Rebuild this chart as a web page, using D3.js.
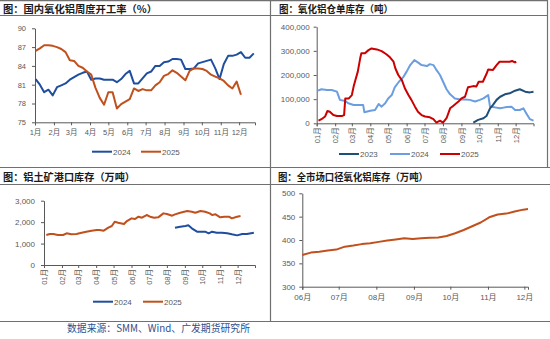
<!DOCTYPE html>
<html><head><meta charset="utf-8">
<script src="https://cdn.jsdelivr.net/npm/d3@7/dist/d3.min.js"></script>
<style>body{margin:0;background:#fff}svg{display:block}</style>
</head><body>
<svg id="c" width="550" height="339"></svg>
<script>
// ---------------- DATA ----------------
// Panel 1: weekly alumina operating rate (%)
const p1Months = ["1月","2月","3月","4月","5月","6月","7月","8月","9月","10月","11月","12月"];
const p1Ticks = [75,78,81,84,87,90];
const util2024 = [81.9,81.0,79.8,80.2,79.3,80.6,80.9,81.2,81.8,82.2,
  82.6,82.9,83.1,81.8,82.0,82.0,81.8,81.8,81.8,81.4,
  81.9,82.7,83.2,81.2,81.2,82.0,82.8,83.1,84.0,84.0,
  84.6,84.7,85.1,85.1,85.0,83.5,83.5,83.6,84.4,84.6,
  84.8,85.0,83.6,81.9,84.3,85.6,85.6,85.8,86.2,85.3,
  85.3,86.0];
const util2025 = [86.4,86.8,87.3,87.3,87.2,87.0,86.7,86.2,84.9,84.8,
  84.0,83.7,83.1,82.6,80.5,78.9,77.8,79.8,79.8,77.2,
  77.9,78.3,78.7,80.4,80.0,80.3,80.1,80.1,80.9,81.4,
  82.4,82.7,83.3,82.9,82.3,81.7,83.2,83.6,83.6,83.5,
  83.2,82.6,82.3,82.0,81.6,80.9,80.4,81.5,79.4];

// Panel 2: alumina warrant stock (t), day-of-year positions
const p2Months = ["01月","02月","03月","04月","05月","06月","07月","08月","09月","10月","11月","12月"];
const p2Ticks = [0,100000,200000,300000,400000];
const whDays2023 = [263,271,280,285,291,296,302,308,316,324,333,341,350,358,364];
const wh2023 = [3000,14000,21000,30000,62000,76000,97000,110000,120000,124000,135000,141000,131000,128000,131000];
const whDays2024 = [2,8,17,25,34,39,48,53,62,73,78,80,90,98,104,109,115,120,126,131,
  138,145,151,157,164,171,176,185,190,196,201,207,213,218,224,232,241,249,257,266,
  274,280,288,291,299,308,316,327,333,341,347,352,358,364];
const wh2024 = [135000,141000,138000,138000,131000,97000,92000,83000,76000,76000,76000,46000,52000,55000,80000,69000,83000,103000,117000,149000,
  172000,190000,214000,241000,262000,250000,241000,237000,245000,241000,221000,200000,168000,141000,120000,103000,99000,99000,97000,90000,
  97000,103000,117000,69000,66000,62000,66000,69000,55000,55000,62000,41000,17000,11000];
const whDays2025 = [3,8,14,18,22,28,34,42,46,48,54,59,62,65,69,73,75,81,87,92,
  101,109,117,123,129,132,137,143,148,154,159,165,170,176,182,190,196,201,207,212,
  218,224,229,238,243,249,254,263,268,272,279,285,288,296,302,307,316,324,328,333,335];
const wh2025 = [11000,17000,28000,51000,48000,34000,30000,30000,34000,103000,103000,117000,152000,179000,214000,269000,290000,290000,303000,310000,
  306000,299000,286000,273000,255000,228000,200000,179000,145000,117000,97000,69000,48000,34000,28000,25000,17000,3000,11000,3000,
  21000,62000,72000,90000,103000,110000,149000,154000,152000,172000,172000,204000,223000,221000,241000,255000,255000,255000,258000,252000,255000];

// Panel 3: bauxite port stock (10kt)
const p3Ticks = [0,1000,2000,3000];
const bxDays2024 = [226,235,244,249,255,264,272,278,284,290,298,307,316,324,333,342,350,362];
const bx2024 = [1741,1788,1819,1850,1710,1554,1554,1554,1477,1554,1508,1508,1477,1430,1383,1446,1446,1508];
const bxDays2025 = [4,10,16,24,33,39,47,56,65,73,82,91,96,103,111,117,122,128,138,143,
  151,157,163,169,177,183,190,197,206,212,221,226,235,247,255,261,270,278,286,290,
  296,304,311,319,324,333,339];
const bx2025 = [1399,1446,1446,1399,1399,1477,1430,1446,1508,1554,1601,1632,1632,1601,1741,1819,2021,1974,1912,2052,
  2176,2145,2254,2207,2332,2254,2207,2223,2409,2378,2301,2363,2441,2518,2487,2441,2518,2487,2409,2332,
  2363,2223,2254,2254,2176,2254,2285];

// Panel 4: market-wide alumina inventory (10kt)
const p4Months = ["06月","07月","08月","09月","10月","11月","12月"];
const p4Ticks = [300,350,400,450,500];
const invDates = ["2025-06-01","2025-06-08","2025-06-15","2025-06-22","2025-06-29","2025-07-06","2025-07-13","2025-07-20","2025-07-27",
  "2025-08-03","2025-08-10","2025-08-17","2025-08-24","2025-08-31","2025-09-07","2025-09-14","2025-09-21","2025-09-28",
  "2025-10-05","2025-10-12","2025-10-19","2025-10-26","2025-11-02","2025-11-09","2025-11-16","2025-11-23","2025-11-30","2025-12-04"];
const inv = [368,373,375,377.7,379.5,385.7,388,391.2,392.9,396,399,401.2,403.6,402,403.6,405,405.5,408.5,
  414.5,421.5,429.5,437.5,448.6,454.5,456.5,461,465,466.4];

// ---------------- DRAWING ----------------
const svg = d3.select("#c");
const NUM = "'Liberation Sans', Arial, 'Noto Sans CJK SC', sans-serif";
const CJK = "'Noto Sans CJK SC', sans-serif";
const AX = "#595959", TX = "#595959";
const C_BLUE = "#1f4e9e", C_BROWN = "#c0501c";
const C23 = "#1f4e79", C24L = "#6b9ee0", C25R = "#cc0000";

svg.append("rect").attr("width",550).attr("height",339).attr("fill","#fff");

// frame
const fr = svg.append("g").attr("stroke","#707070").attr("stroke-width",1.2).attr("fill","none");
[[0,547,0.6],[0,547,15.5],[0,550,167.5],[0,550,184.5],[0,550,321.5]].forEach(([a,b,y])=>
  fr.append("line").attr("x1",a).attr("x2",b).attr("y1",y).attr("y2",y));
fr.append("line").attr("x1",270.5).attr("x2",270.5).attr("y1",0).attr("y2",321.5);
fr.append("line").attr("x1",547.5).attr("x2",547.5).attr("y1",0).attr("y2",167.5);

function title(x,y,txt,len){
  svg.append("text").attr("x",x).attr("y",y).text(txt)
    .attr("font-family",CJK).attr("font-weight",700).attr("font-size",10)
    .attr("fill","#1a1a1a").attr("textLength",len).attr("lengthAdjust","spacingAndGlyphs");
}
title(3,12.5,"图：国内氧化铝周度开工率（%）",154);
title(279,12.5,"图：氧化铝仓单库存（吨）",114);
title(3,180.5,"图：铝土矿港口库存（万吨）",132);
title(278,180.5,"图：全市场口径氧化铝库存（万吨）",150);

function styleAxis(g,fs){
  g.selectAll("path,line").attr("stroke",AX).attr("stroke-width",1);
  g.selectAll("text").attr("fill",TX).attr("font-family",NUM).attr("font-size",fs);
}
function drawLine(xs,ys,xScale,yScale,color,w){
  const pts = xs.map((d,i)=>[xScale(d),yScale(ys[i])]);
  svg.append("path").attr("d",d3.line()(pts)).attr("fill","none")
    .attr("stroke",color).attr("stroke-width",w||2).attr("stroke-linejoin","round");
}
function legend(items,y){
  items.forEach(([x,c,t])=>{
    svg.append("line").attr("x1",x).attr("x2",x+20).attr("y1",y).attr("y2",y).attr("stroke",c).attr("stroke-width",2);
    svg.append("text").attr("x",x+21).attr("y",y).attr("dy","0.35em").text(t)
      .attr("font-family",NUM).attr("font-size",8).attr("fill",TX);
  });
}
const Y0 = new Date(2025,0,1);
const doy = d=>d3.timeDay.offset(Y0,d);
const monthStarts = d3.range(12).map(m=>new Date(2025,m,1));

// ---- Panel 1 ----
{
  const x = d3.scaleTime().domain([new Date(2025,0,1),new Date(2025,11,27)]).range([35,255]);
  const y = d3.scaleLinear().domain([75,90]).range([122.3,28.3]);
  const start = new Date(2025,0,2);
  const d24 = util2024.map((v,i)=>d3.timeDay.offset(start,7*i));
  const d25 = util2025.map((v,i)=>d3.timeDay.offset(start,7*i));
  const gx = svg.append("g").attr("transform","translate(0,122.3)")
    .call(d3.axisBottom(x).tickValues(monthStarts).tickFormat((d,i)=>p1Months[i]).tickSize(3).tickPadding(4));
  styleAxis(gx,7.5);
  const gy = svg.append("g").attr("transform","translate(35,0)")
    .call(d3.axisLeft(y).tickValues(p1Ticks).tickSize(3).tickSizeOuter(0).tickPadding(6));
  styleAxis(gy,7.5);
  drawLine(d24,util2024,x,y,C_BLUE,2);
  drawLine(d25,util2025,x,y,C_BROWN,2);
  legend([[92,C_BLUE,"2024"],[141,C_BROWN,"2025"]],151.7);
}

// ---- Panel 2 ----
{
  const x = d3.scaleTime().domain([new Date(2025,0,1),new Date(2025,11,31)]).range([316.7,533.5]);
  const y = d3.scaleLinear().domain([0,400000]).range([123.3,26.7]);
  const gx = svg.append("g").attr("transform","translate(0,123.3)")
    .call(d3.axisBottom(x).tickValues(monthStarts).tickFormat((d,i)=>p2Months[i]).tickSize(3));
  styleAxis(gx,7.5);
  gx.selectAll(".tick text").attr("transform","rotate(-90)").attr("text-anchor","end")
    .attr("x",-4).attr("y",0).attr("dy","0.35em");
  const gy = svg.append("g").attr("transform","translate(316.7,0)")
    .call(d3.axisLeft(y).tickValues(p2Ticks).tickFormat(d3.format(",")).tickSize(3).tickSizeOuter(0).tickPadding(4));
  styleAxis(gy,8);
  drawLine(whDays2024.map(doy),wh2024,x,y,C24L,2);
  drawLine(whDays2023.map(doy),wh2023,x,y,C23,2);
  drawLine(whDays2025.map(doy),wh2025,x,y,C25R,2);
  legend([[339,C23,"2023"],[390,C24L,"2024"],[440,C25R,"2025"]],154);
}

// ---- Panel 3 ----
{
  const x = d3.scaleTime().domain([new Date(2025,0,1),new Date(2025,11,31)]).range([44,255]);
  const y = d3.scaleLinear().domain([0,3000]).range([265,200.7]);
  const gx = svg.append("g").attr("transform","translate(0,265)")
    .call(d3.axisBottom(x).tickValues(monthStarts).tickFormat((d,i)=>p2Months[i]).tickSize(3));
  styleAxis(gx,7.5);
  gx.selectAll(".tick text").attr("transform","rotate(-90)").attr("text-anchor","end")
    .attr("x",-4).attr("y",0).attr("dy","0.35em");
  const gy = svg.append("g").attr("transform","translate(44,0)")
    .call(d3.axisLeft(y).tickValues(p3Ticks).tickFormat(d3.format(",")).tickSize(3).tickSizeOuter(0).tickPadding(6));
  styleAxis(gy,8);
  drawLine(bxDays2024.map(doy),bx2024,x,y,C_BLUE,2);
  drawLine(bxDays2025.map(doy),bx2025,x,y,C_BROWN,2);
  legend([[93,C_BLUE,"2024"],[143,C_BROWN,"2025"]],301.7);
}

// ---- Panel 4 ----
{
  const pd = d3.timeParse("%Y-%m-%d");
  const dates = invDates.map(pd);
  const x = d3.scaleTime().domain([new Date(2025,5,1),dates[dates.length-1]]).range([302.3,528]);
  const y = d3.scaleLinear().domain([300,500]).range([286.7,193.3]);
  const mt = d3.range(6,13).map(m=>new Date(2025,m-1,1));
  const gx = svg.append("g").attr("transform","translate(0,286.7)")
    .call(d3.axisBottom(x).tickValues(mt).tickFormat((d,i)=>p4Months[i]).tickSize(3).tickPadding(5));
  styleAxis(gx,8);
  const gy = svg.append("g").attr("transform","translate(302.3,0)")
    .call(d3.axisLeft(y).tickValues(p4Ticks).tickSize(3).tickSizeOuter(0).tickPadding(4));
  styleAxis(gy,8);
  drawLine(dates,inv,x,y,C_BROWN,2);
}

// source note
svg.append("text").attr("x",67).attr("y",332).text("数据来源：SMM、Wind、广发期货研究所")
  .attr("font-family",CJK).attr("font-size",10).attr("fill","#2f4f8f")
  .attr("textLength",183).attr("lengthAdjust","spacingAndGlyphs");
</script>
</body></html>
